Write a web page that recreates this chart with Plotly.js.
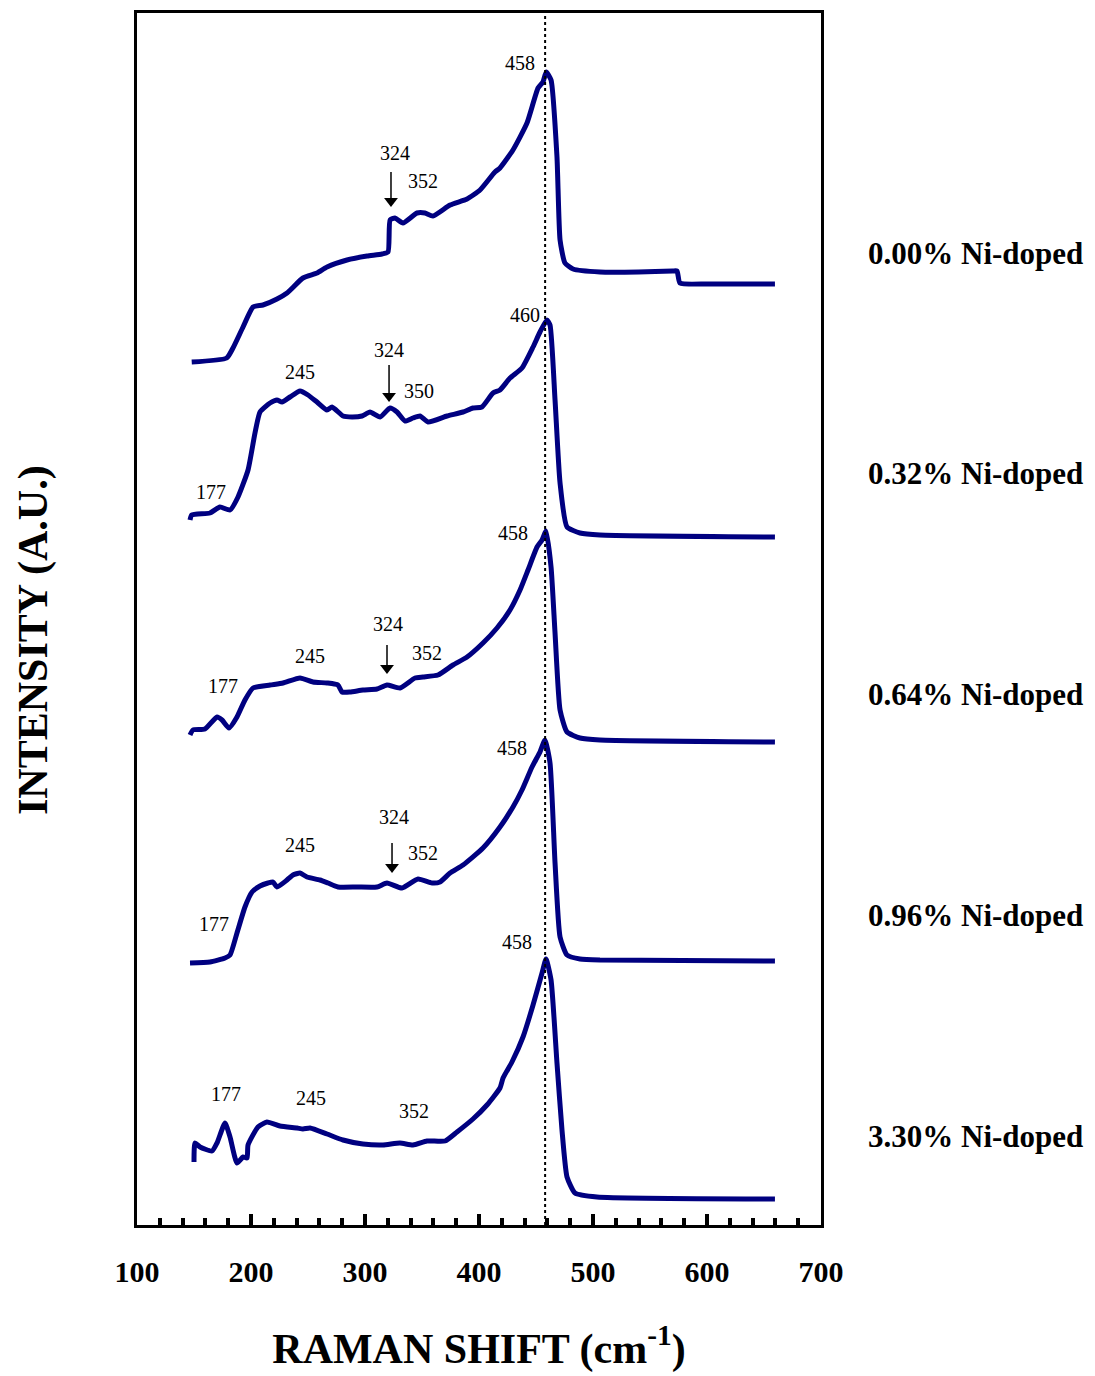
<!DOCTYPE html>
<html>
<head>
<meta charset="utf-8">
<script src="https://cdn.plot.ly/plotly-3.0.1.min.js"></script>
<style>html,body{margin:0;padding:0;background:#fff;}#chart{width:1095px;height:1376px;}</style>
</head>
<body>
<div id="chart"></div>
<script>
// ---- Data (Raman shift in cm-1, stacked intensity in arbitrary units) ----
const shift_000 = [148.0,178.7,184.2,193.0,201.8,210.5,222.8,231.6,245.6,257.9,266.7,284.2,301.8,314.9,320.2,322.0,326.3,333.3,345.6,352.6,359.6,374.6,389.5,400.9,414.0,418.4,429.8,442.1,451.8,456.1,459.0,463.2,468.4,471.1,475.4,482.5,506.1,540.0,570.0,573.7,576.3,600.0,659.6];
const inten_000 = [862,866,876,897,917,919,925,931,946,951,957,964,968,970,972,1004,1006,1001,1011,1011,1008,1019,1025,1034,1052,1056,1074,1101,1136,1142,1152,1144,1067,984,961,955,952,952,953,953,941,940,940];

const shift_032 = [146.5,148.0,164.0,172.8,181.6,188.6,197.4,203.5,207.9,216.7,222.8,227.2,234.2,243.0,250.0,257.9,266.7,271.1,280.7,288.6,297.4,304.4,313.2,321.9,328.1,335.1,342.1,348.2,355.3,371.9,386.0,394.7,402.6,412.3,418.4,427.2,437.7,447.4,453.5,459.6,462.3,466.7,471.1,477.2,488.6,506.1,659.6];
const inten_032 = [704,709,711,717,714,727,754,791,812,821,824,822,827,833,829,822,814,817,808,807,808,812,807,816,812,803,806,808,802,808,812,816,817,831,834,846,856,877,892,904,899,824,741,697,691,689,687];

const shift_064 = [146.5,149.1,159.6,170.2,174.6,180.7,187.7,194.7,201.8,216.7,228.1,243.0,254.4,266.7,276.3,279.8,286.8,298.2,310.5,319.3,330.7,343.9,350.9,364.0,377.2,389.5,403.5,415.8,427.2,436.0,443.0,450.9,455.3,458.8,463.2,466.7,471.1,477.2,488.6,506.1,659.6];
const inten_064 = [489,494,495,507,504,496,507,524,536,539,541,546,542,541,539,532,532,534,535,539,536,546,547,549,559,567,581,596,614,634,654,677,684,693,657,591,514,492,486,484,482];

const shift_096 = [146.5,164.0,177.2,181.6,187.7,194.7,200.9,207.9,214.9,219.3,222.8,231.6,236.8,243.0,249.1,260.5,267.5,276.3,293.0,310.5,319.3,332.5,346.5,358.8,365.8,374.6,386.0,403.5,418.4,429.8,437.7,446.5,453.5,457.9,462.3,466.7,471.1,477.2,488.6,506.1,659.6];
const inten_096 = [261,262,266,269,291,317,332,338,341,342,337,344,349,351,347,344,341,337,337,337,341,336,345,341,342,351,359,376,397,417,434,457,472,484,461,361,287,269,265,264,263];

const shift_330 = [150.0,150.9,155.3,165.8,170.2,177.2,181.6,187.7,193.0,196.5,197.4,206.1,214.0,225.4,240.4,245.6,251.8,266.7,280.7,298.2,315.8,330.7,342.1,354.4,370.2,380.7,394.7,407.0,418.4,421.1,428.9,438.6,447.4,455.3,458.8,463.2,468.4,472.8,477.2,484.2,503.5,659.6];
const inten_330 = [62,81,77,73,81,101,87,61,67,66,79,97,102,98,96,95,96,90,84,80,79,81,79,83,83,92,105,119,136,146,162,187,219,251,265,244,161,94,47,31,27,25];

const sampleLabels = ["0.00% Ni-doped","0.32% Ni-doped","0.64% Ni-doped","0.96% Ni-doped","3.30% Ni-doped"];
const sampleLabelY = [971,751,530,309,88];

// peak labels: text, x (cm-1), y (stacked intensity)
const peakText = ["458","324","352", "460","245","324","350","177", "458","324","245","352","177", "458","324","352","245","177", "458","177","245","352"];
const peakX    = [436.0,326.3,350.9, 440.4,243.0,321.1,347.4,164.9, 429.8,320.2,251.8,354.4,175.4, 428.9,325.4,350.9,243.0,167.5, 433.3,178.1,252.6,343.0];
const peakY    = [1161,1071,1043, 909,852,874,833,732, 691,600,568,571,538, 476,407,371,379,300, 282,130,126,113];

// arrows marking the 324 cm-1 band: tip x, tip y, shaft length
const arrowX = [322.8,321.1,319.3,323.7];
const arrowY = [1017,822,550,351];
const arrowLen = [35,37,29,30];

const refLine = 458;

// ---- Build traces ----
const navy = 'rgb(0,0,128)';
const series = [[shift_000,inten_000],[shift_032,inten_032],[shift_064,inten_064],[shift_096,inten_096],[shift_330,inten_330]];
const traces = series.map((s,i) => ({
  x: s[0], y: s[1], type: 'scatter', mode: 'lines', name: sampleLabels[i],
  line: {color: navy, width: 5, shape: 'spline', smoothing: 0.5}, hoverinfo: 'x+y'
}));

// arrow shafts and heads (y axis units are 1 per pixel)
const shaftX = [], shaftY = [];
arrowX.forEach((ax,i) => { shaftX.push(ax, ax, null); shaftY.push(arrowY[i] + arrowLen[i], arrowY[i] + 8, null); });
traces.push({x: shaftX, y: shaftY, type: 'scatter', mode: 'lines', line: {color: '#000', width: 1.5}, hoverinfo: 'skip', showlegend: false});
traces.push({x: arrowX, y: arrowY.map(v => v + 6), type: 'scatter', mode: 'markers',
  marker: {symbol: 'triangle-down', size: 12, color: '#000', line: {width: 0}}, hoverinfo: 'skip', showlegend: false});

const serif = 'Liberation Serif, Times New Roman, serif';
const annotations = [];
peakText.forEach((t,i) => annotations.push({
  text: t, x: peakX[i], y: peakY[i], xref: 'x', yref: 'y', showarrow: false,
  font: {family: serif, size: 20, color: '#000'}, xanchor: 'center', yanchor: 'middle'
}));
sampleLabels.forEach((t,i) => annotations.push({
  text: t, x: (866-137)/684, y: sampleLabelY[i], xref: 'paper', yref: 'y', showarrow: false,
  xanchor: 'left', yanchor: 'middle', font: {family: serif, size: 31, color: '#000', weight: 'bold'}
}));
// y-axis title
annotations.push({
  text: 'INTENSITY (A.U.)', x: (33-137)/684, y: 584, xref: 'paper', yref: 'y', showarrow: false,
  textangle: -90, xanchor: 'center', yanchor: 'middle',
  font: {family: serif, size: 42, color: '#000', weight: 'bold'}
});

const layout = {
  width: 1095, height: 1376,
  margin: {l: 137, r: 274, t: 13, b: 151},
  paper_bgcolor: '#fff', plot_bgcolor: '#fff',
  showlegend: false,
  font: {family: serif, color: '#000'},
  xaxis: {
    range: [100, 700], tickmode: 'linear', tick0: 100, dtick: 100,
    ticks: 'inside', ticklen: 11, tickwidth: 4, tickcolor: '#000',
    minor: {dtick: 20, ticks: 'inside', ticklen: 7, tickwidth: 4, tickcolor: '#000', showgrid: false},
    showline: true, linewidth: 3, linecolor: '#000', mirror: true,
    showgrid: false, zeroline: false,
    tickfont: {family: serif, size: 30, color: '#000', weight: 'bold'},
    ticklabelstandoff: 18,
    automargin: false,
    title: {text: 'RAMAN SHIFT (cm<sup>-1</sup>)', font: {family: serif, size: 42, color: '#000', weight: 'bold'}}
  },
  yaxis: {
    range: [-1, 1211], showticklabels: false, ticks: '',
    showline: true, linewidth: 3, linecolor: '#000', mirror: true,
    showgrid: false, zeroline: false, automargin: false
  },
  shapes: [{
    type: 'line', xref: 'x', yref: 'paper', x0: refLine, x1: refLine, y0: 0, y1: 1.005,
    line: {color: '#000', width: 2, dash: 'dot'}
  }],
  annotations: annotations
};

Plotly.newPlot('chart', traces, layout, {displayModeBar: false, staticPlot: true});
</script>
</body>
</html>
